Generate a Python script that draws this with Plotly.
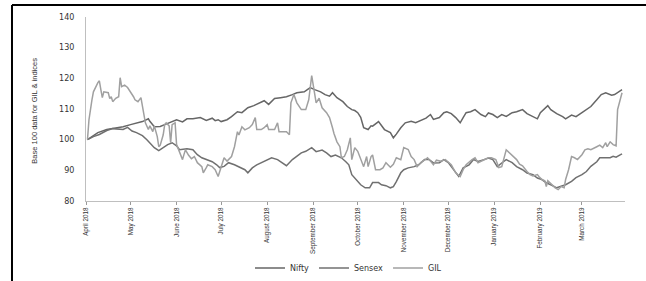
import plotly.graph_objects as go

# ---------------- data ----------------
gil_dates = ["2018-04-02","2018-04-03","2018-04-05","2018-04-06","2018-04-09","2018-04-10","2018-04-11","2018-04-12","2018-04-13","2018-04-16","2018-04-17","2018-04-18","2018-04-19","2018-04-21","2018-04-23","2018-04-24","2018-04-25","2018-04-27","2018-04-29",
"2018-05-01","2018-05-03","2018-05-04","2018-05-06","2018-05-08","2018-05-09","2018-05-10","2018-05-11","2018-05-13","2018-05-14","2018-05-16","2018-05-17","2018-05-19","2018-05-20","2018-05-21","2018-05-23","2018-05-24","2018-05-25","2018-05-27","2018-05-28","2018-05-29","2018-05-31",
"2018-06-01","2018-06-03","2018-06-05","2018-06-06","2018-06-07","2018-06-09","2018-06-11","2018-06-13","2018-06-15","2018-06-18","2018-06-19","2018-06-21","2018-06-22","2018-06-25","2018-06-27","2018-06-29",
"2018-07-01","2018-07-03","2018-07-05","2018-07-08","2018-07-10","2018-07-12","2018-07-13","2018-07-15","2018-07-17","2018-07-20","2018-07-22","2018-07-24","2018-07-25","2018-07-28","2018-07-30",
"2018-08-01","2018-08-02","2018-08-06","2018-08-08","2018-08-09","2018-08-14","2018-08-16","2018-08-17","2018-08-19","2018-08-21","2018-08-24","2018-08-27","2018-08-29","2018-08-31",
"2018-09-01","2018-09-03","2018-09-05","2018-09-07","2018-09-10","2018-09-12","2018-09-14","2018-09-15","2018-09-17","2018-09-19","2018-09-20","2018-09-22","2018-09-24","2018-09-26","2018-09-27","2018-09-29",
"2018-10-01","2018-10-03","2018-10-05","2018-10-07","2018-10-08","2018-10-10","2018-10-11","2018-10-13","2018-10-16","2018-10-18","2018-10-20","2018-10-23","2018-10-25","2018-10-27","2018-10-30",
"2018-11-01","2018-11-04","2018-11-06","2018-11-08","2018-11-10","2018-11-13","2018-11-15","2018-11-17","2018-11-19","2018-11-21","2018-11-23","2018-11-26","2018-11-29",
"2018-12-01","2018-12-03","2018-12-06","2018-12-09","2018-12-11","2018-12-13","2018-12-17","2018-12-19","2018-12-21","2018-12-23","2018-12-26","2018-12-28","2018-12-30",
"2019-01-02","2019-01-04","2019-01-06","2019-01-09","2019-01-11","2019-01-13","2019-01-16","2019-01-18","2019-01-20","2019-01-23","2019-01-25","2019-01-27","2019-01-30","2019-01-31",
"2019-02-02","2019-02-04","2019-02-05","2019-02-06","2019-02-08","2019-02-11","2019-02-13","2019-02-15","2019-02-17","2019-02-18","2019-02-20","2019-02-22","2019-02-24","2019-02-26",
"2019-03-01","2019-03-03","2019-03-05","2019-03-07","2019-03-11","2019-03-13","2019-03-15","2019-03-17","2019-03-18","2019-03-20","2019-03-22","2019-03-24","2019-03-25","2019-03-27","2019-03-28"]
gil_values = [100,106.5,113,115.6,118.6,119.2,116.3,113.7,115.6,115.3,113.4,114,112.4,113.5,114,120.2,117.3,117.8,117,
115.6,114,113,112.4,113.7,110.8,107.5,105.5,103.3,104.5,102.6,104.5,101,97.7,98.2,101.6,104.9,105.5,104.5,99,104.9,105.5,
98.4,95.7,93.5,95.2,96.7,95,93.8,94.5,92.5,91.2,89.2,90.9,91.8,91.2,90.2,88,
91.2,94.1,93,94.5,97.7,102.6,101.5,104.2,103.2,103.9,104.9,107.2,103.3,103.3,103.9,
104.9,103.3,103.3,105.5,102.6,102.6,101.6,112,114.7,112,109.8,109.8,113,120.9,
117.9,112,113.5,110.4,108.8,107.2,103.9,102,99.3,97.7,94.1,94.5,96.7,100.6,93.5,97.4,
96.2,93.5,91.2,94.5,91.2,94.5,95,90.2,90.2,90.8,92.5,91,92,94.1,93.5,
97.4,96.8,94.5,93.5,91.2,92.8,93.3,94.1,93,91.8,93.3,93,93.5,
92.5,91.8,89.2,88,90.2,91.8,93.5,94.1,92.5,93,93.5,94.1,94.1,
93.5,90.9,91.2,96.7,95.8,95,93.5,92,91.5,89.6,88.6,88.2,88.6,88,
87,86.6,84.7,86.6,85.6,84.3,83.7,84.7,84.3,87,90.2,94.5,94.1,93.5,
95.1,96.7,97,96.7,97.7,98.2,97.4,99,97.7,99.3,98.4,98,109.8,114,115.3]

nifty_dates = ["2018-04-02","2018-04-09","2018-04-15","2018-04-19","2018-04-26","2018-05-01","2018-05-05","2018-05-09","2018-05-13","2018-05-14","2018-05-17","2018-05-21","2018-05-24","2018-05-27",
"2018-06-01","2018-06-05","2018-06-08","2018-06-12","2018-06-17","2018-06-21","2018-06-25","2018-06-27","2018-06-29",
"2018-07-01","2018-07-05","2018-07-08","2018-07-12","2018-07-15","2018-07-19","2018-07-23","2018-07-26","2018-07-30",
"2018-08-02","2018-08-06","2018-08-10","2018-08-14","2018-08-18","2018-08-21","2018-08-26","2018-08-30",
"2018-09-02","2018-09-06","2018-09-09","2018-09-12","2018-09-14","2018-09-17","2018-09-21","2018-09-24","2018-09-27","2018-09-29",
"2018-10-01","2018-10-03","2018-10-05","2018-10-08","2018-10-10","2018-10-11","2018-10-15","2018-10-17","2018-10-19","2018-10-23","2018-10-25","2018-10-27","2018-10-30",
"2018-11-02","2018-11-06","2018-11-09","2018-11-13","2018-11-16","2018-11-19","2018-11-21","2018-11-25","2018-11-28","2018-11-30",
"2018-12-03","2018-12-06","2018-12-09","2018-12-11","2018-12-13","2018-12-16","2018-12-19","2018-12-23","2018-12-26","2018-12-28","2018-12-31",
"2019-01-03","2019-01-06","2019-01-09","2019-01-13","2019-01-16","2019-01-20","2019-01-23","2019-01-27","2019-01-30",
"2019-02-01","2019-02-03","2019-02-06","2019-02-08","2019-02-12","2019-02-16","2019-02-18","2019-02-22","2019-02-25",
"2019-03-01","2019-03-04","2019-03-07","2019-03-11","2019-03-14","2019-03-17","2019-03-21","2019-03-23","2019-03-25","2019-03-28"]
nifty_values = [100,102.3,103.3,103.6,104.2,104.9,105.5,105.9,106.8,106,104.2,104.3,104.9,105.5,
106.5,105.8,106.8,106.8,107.2,106.3,107,106.2,106.5,
105.9,106.5,107.5,109.1,108.8,110.4,111.1,111.8,112.7,
111.5,113.4,113.7,114,114.7,115.3,115.6,117,
116.3,115.6,114.7,114.2,115.3,113.7,112.4,110.8,109.8,109.5,
108.8,107.3,103.9,103.3,104.5,104.4,105.9,104.7,103.3,102.3,100.6,101.8,103.9,
105.5,106,105.5,106.5,107,108.2,106.6,107.2,108.8,109.1,
108.5,107.2,105.5,107.2,108.8,109.1,109.8,108.2,107.5,108.7,108.2,
107.2,108.2,107.6,108.8,109.1,109.8,108.5,107.5,106.8,
108.8,109.8,111.1,109.8,108.5,107.5,106.8,108,107.5,
108.8,109.8,110.8,113,114.7,115.3,114.5,114.7,115.3,116.3]

sensex_dates = ["2018-04-02","2018-04-06","2018-04-10","2018-04-15","2018-04-19","2018-04-23","2018-04-26","2018-04-29","2018-05-02","2018-05-05","2018-05-09","2018-05-12","2018-05-15","2018-05-17","2018-05-20","2018-05-23","2018-05-26","2018-05-29",
"2018-06-01","2018-06-03","2018-06-08","2018-06-12","2018-06-15","2018-06-18","2018-06-21","2018-06-25","2018-06-28","2018-06-30",
"2018-07-03","2018-07-06","2018-07-10","2018-07-13","2018-07-17","2018-07-19","2018-07-22","2018-07-25","2018-07-29",
"2018-08-01","2018-08-04","2018-08-08","2018-08-11","2018-08-14","2018-08-18","2018-08-21","2018-08-24","2018-08-27","2018-08-31",
"2018-09-03","2018-09-07","2018-09-10","2018-09-13","2018-09-16","2018-09-20","2018-09-23","2018-09-25","2018-09-27","2018-09-30",
"2018-10-03","2018-10-06","2018-10-09","2018-10-11","2018-10-15","2018-10-17","2018-10-20","2018-10-23","2018-10-25","2018-10-27","2018-10-30",
"2018-11-01","2018-11-04","2018-11-08","2018-11-11","2018-11-15","2018-11-18","2018-11-21","2018-11-25","2018-11-28",
"2018-12-01","2018-12-03","2018-12-06","2018-12-08","2018-12-11","2018-12-15","2018-12-18","2018-12-21","2018-12-25","2018-12-28","2018-12-31",
"2019-01-03","2019-01-06","2019-01-09","2019-01-13","2019-01-16","2019-01-20","2019-01-23","2019-01-27","2019-01-30",
"2019-02-02","2019-02-05","2019-02-08","2019-02-12","2019-02-15","2019-02-18","2019-02-22","2019-02-25",
"2019-03-01","2019-03-04","2019-03-07","2019-03-11","2019-03-13","2019-03-17","2019-03-20","2019-03-22","2019-03-24","2019-03-27","2019-03-28"]
sensex_values = [100,101,101.7,103,103.6,103.3,103.3,104,102.8,102.3,101.3,100,98.4,97.4,96.4,97.3,98.4,99,
98,96.7,97,96.7,95.1,94.1,93.5,92.8,91.8,90.9,
91.3,92.5,91.8,91.2,90.2,89.2,90.8,91.8,92.8,
93.5,94.1,93.5,92.4,91.5,93.5,94.5,95.7,96.2,97.4,
96.1,96.6,95.7,94.5,95,94.1,92.8,91.8,88.6,87,
85.3,84.3,84.3,86,86,85.3,85,84.3,84.7,86.3,89.2,
90.2,90.8,91.2,91.8,93.5,93.5,92.4,92.5,93.5,
92.5,91.2,89.2,88,90.8,91.8,93.5,92.9,93.5,94,93.5,
91.2,92.4,93.5,92.5,91.2,90.2,89.1,88.6,87.5,
87,85.9,85.3,84.3,84.8,85.3,86.4,87.6,
88.6,89.6,91.3,92.8,94.1,94.1,94.1,94.6,94.3,95.1,95.4]

tick_dates = ["2018-04-01","2018-05-01","2018-06-01","2018-07-01","2018-08-01","2018-09-01",
              "2018-10-01","2018-11-01","2018-12-01","2019-01-01","2019-02-01","2019-03-01"]
tick_labels = ["April 2018","May 2018","June 2018","July 2018","August 2018","September 2018",
               "October 2018","November 2018","December 2018","January 2019","February 2019","March 2019"]
y_ticks = [80, 90, 100, 110, 120, 130, 140]

# ---------------- figure ----------------
fig = go.Figure()
fig.add_trace(go.Scatter(x=nifty_dates, y=nifty_values, name="Nifty", mode="lines",
                         line=dict(color="#666666", width=1.5)))
fig.add_trace(go.Scatter(x=sensex_dates, y=sensex_values, name="Sensex", mode="lines",
                         line=dict(color="#707070", width=1.5)))
fig.add_trace(go.Scatter(x=gil_dates, y=gil_values, name="GIL", mode="lines",
                         line=dict(color="#a0a0a0", width=1.5)))

fig.update_layout(
    width=646, height=281,
    margin=dict(l=86, r=21, t=17, b=80, autoexpand=False),
    paper_bgcolor="white", plot_bgcolor="white",
    showlegend=True,
    legend=dict(orientation="h", x=0.487, xanchor="center", y=-0.285, yanchor="top",
                font=dict(family="DejaVu Sans", size=8, color="#333333"),
                itemwidth=30, bgcolor="rgba(0,0,0,0)", tracegroupgap=0),
    xaxis=dict(type="date", range=["2018-04-01", "2019-03-30"], automargin=False,
               tickvals=tick_dates, ticktext=tick_labels, tickangle=-90,
               tickfont=dict(family="Liberation Sans", size=6.3, color="#333333"),
               showgrid=False, zeroline=False, showline=True, linecolor="#bfbfbf", linewidth=1,
               ticks="outside", ticklen=3, tickcolor="#999999"),
    yaxis=dict(range=[80, 140], tickvals=y_ticks, automargin=False,
               tickfont=dict(family="DejaVu Sans", size=8, color="#333333"),
               showgrid=False, zeroline=False, showline=True, linecolor="#bfbfbf", linewidth=1,
               ticks="", ticklabelstandoff=9),
    annotations=[dict(text="Base 100 data for GIL & indices", textangle=-90,
                      xref="paper", yref="paper", x=-0.095, y=0.49,
                      xanchor="center", yanchor="middle", showarrow=False,
                      font=dict(family="Liberation Sans", size=7.5, color="#333333"))],
    shapes=[
        dict(type="line", xref="paper", yref="paper", x0=-0.1373, x1=1.05, y0=1.065, y1=1.065,
             line=dict(color="black", width=2)),
        dict(type="line", xref="paper", yref="paper", x0=-0.1373, x1=-0.1373, y0=1.065, y1=-0.45,
             line=dict(color="black", width=2)),
    ],
)

fig.write_html("out.html", config={"displayModeBar": False},
               post_script="document.body.style.margin='0';")
